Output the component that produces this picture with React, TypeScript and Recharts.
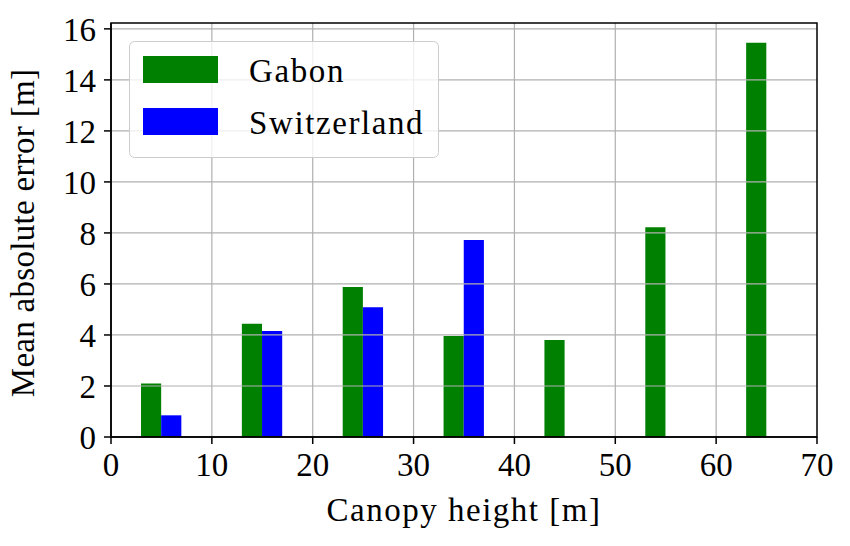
import React from "react";
import {
  ComposedChart,
  Bar,
  XAxis,
  YAxis,
  Legend,
  ReferenceArea,
  ReferenceLine,
} from "recharts";

// ---- data ----
const binCenters = [5, 15, 25, 35, 45, 55, 65];
const gabonMAE = [2.1, 4.44, 5.88, 3.96, 3.8, 8.22, 15.46];
const switzerlandMAE: (number | null)[] = [0.85, 4.16, 5.09, 7.72, null, null, null];
const xTicks = [0, 10, 20, 30, 40, 50, 60, 70];
const yTicks = [0, 2, 4, 6, 8, 10, 12, 14, 16];
const seriesNames = { gabon: "Gabon", switzerland: "Switzerland" };
const seriesColors = { gabon: "#008000", switzerland: "#0000ff" };

const xDomain: [number, number] = [0, 70];
const yDomain: [number, number] = [0, 16.23];
const barWidthUnits = 2;

const tableData = binCenters.map((c, i) => ({
  height: c,
  gabon: gabonMAE[i],
  switzerland: switzerlandMAE[i],
}));

// ---- layout ----
const W = 850;
const H = 546;
const M = { top: 23, right: 33, left: 0, bottom: 0 };
const Y_AXIS_W = 111;
const X_AXIS_H = 109;
const plotWidth = W - M.left - M.right - Y_AXIS_W;
const barSize = (plotWidth / (xDomain[1] - xDomain[0])) * barWidthUnits;

const FONT = "'Liberation Serif', 'Times New Roman', serif";
const FS = 33;
const GRID = "#b0b0b0";

const XLabel = (props: any) => {
  const vb = props.viewBox || {};
  return (
    <text
      x={vb.x + vb.width / 2}
      y={vb.y + 84}
      textAnchor="middle"
      fontFamily={FONT}
      fontSize={FS}
      letterSpacing={1.5}
      fill="#000"
    >
      Canopy height [m]
    </text>
  );
};

const YLabel = (props: any) => {
  const vb = props.viewBox || {};
  const x = vb.x + 34;
  const y = vb.y + vb.height / 2 + 3;
  return (
    <text
      x={x}
      y={y}
      transform={`rotate(-90, ${x}, ${y})`}
      textAnchor="middle"
      fontFamily={FONT}
      fontSize={FS}
      letterSpacing={0.3}
      fill="#000"
    >
      Mean absolute error [m]
    </text>
  );
};

const LegendBox = (props: any) => {
  const payload = props.payload || [];
  return (
    <svg width={310} height={117} style={{ display: "block" }}>
      <rect
        x={0.5}
        y={0.5}
        width={309}
        height={116}
        rx={5}
        ry={5}
        fill="#ffffff"
        fillOpacity={0.8}
        stroke="#cccccc"
        strokeWidth={1}
      />
      {payload.map((p: any, i: number) => (
        <g key={p.value}>
          <rect x={14} y={15 + i * 52} width={75} height={27} fill={p.color} />
          <text
            x={120}
            y={41 + i * 52}
            fontFamily={FONT}
            fontSize={FS}
            letterSpacing={1.6}
            fill="#000"
          >
            {p.value}
          </text>
        </g>
      ))}
    </svg>
  );
};

export default function App() {
  const tickStyle = { fontFamily: FONT, fontSize: FS, fill: "#000" };
  return (
    <div style={{ position: "absolute", left: 0, top: 0, background: "#fff" }}>
      <ComposedChart width={W} height={H} data={tableData} margin={M} barGap={0}>
        <XAxis
          dataKey="height"
          type="number"
          domain={xDomain}
          ticks={xTicks}
          height={X_AXIS_H}
          tick={tickStyle}
          tickSize={7}
          tickMargin={9}
          stroke="#000"
          strokeWidth={1.5}
          label={<XLabel />}
        />
        <YAxis
          type="number"
          domain={yDomain}
          ticks={yTicks}
          width={Y_AXIS_W}
          tick={tickStyle}
          tickSize={7}
          tickMargin={8}
          stroke="#000"
          strokeWidth={1.5}
          label={<YLabel />}
        />
        <Bar
          dataKey="gabon"
          name={seriesNames.gabon}
          fill={seriesColors.gabon}
          barSize={barSize}
          isAnimationActive={false}
        />
        <Bar
          dataKey="switzerland"
          name={seriesNames.switzerland}
          fill={seriesColors.switzerland}
          barSize={barSize}
          isAnimationActive={false}
        />
        {xTicks
          .filter((t) => t > xDomain[0] && t < xDomain[1])
          .map((t) => (
            <ReferenceLine
              key={`gx${t}`}
              x={t}
              stroke={GRID}
              strokeWidth={1.2}
              {...({ zIndex: 450 } as any)}
            />
          ))}
        {yTicks
          .filter((t) => t > yDomain[0] && t < yDomain[1])
          .map((t) => (
            <ReferenceLine
              key={`gy${t}`}
              y={t}
              stroke={GRID}
              strokeWidth={1.2}
              {...({ zIndex: 450 } as any)}
            />
          ))}
        <ReferenceArea
          x1={xDomain[0]}
          x2={xDomain[1]}
          y1={yDomain[0]}
          y2={yDomain[1]}
          fill="none"
          fillOpacity={0}
          stroke="#000"
          strokeWidth={1.5}
          {...({ zIndex: 460 } as any)}
        />
        <Legend
          layout="horizontal"
          verticalAlign="middle"
          align="center"
          content={<LegendBox />}
          wrapperStyle={{ left: 129, top: 41, width: 310, height: 117 }}
        />
      </ComposedChart>
    </div>
  );
}
